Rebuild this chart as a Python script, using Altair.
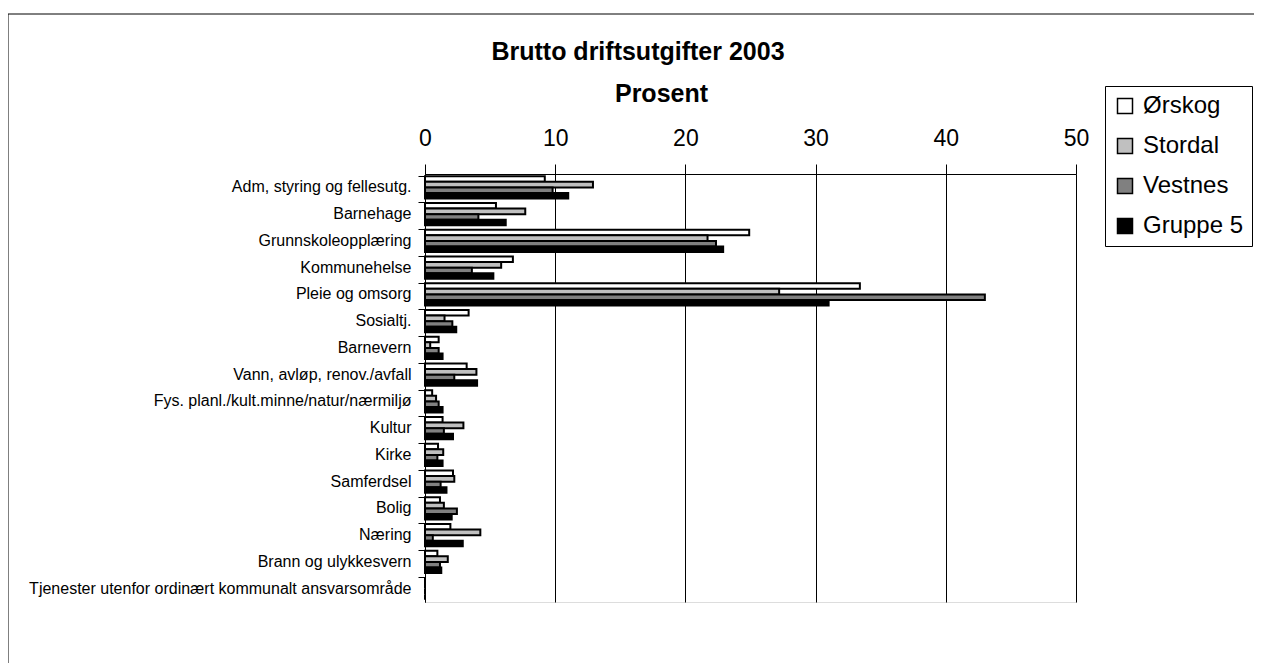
import altair as alt
import pandas as pd

categories = [
    "Adm, styring og fellesutg.",
    "Barnehage",
    "Grunnskoleopplæring",
    "Kommunehelse",
    "Pleie og omsorg",
    "Sosialtj.",
    "Barnevern",
    "Vann, avløp, renov./avfall",
    "Fys. planl./kult.minne/natur/nærmiljø",
    "Kultur",
    "Kirke",
    "Samferdsel",
    "Bolig",
    "Næring",
    "Brann og ulykkesvern",
    "Tjenester utenfor ordinært kommunalt ansvarsområde",
]

series_names = ["Ørskog", "Stordal", "Vestnes", "Gruppe 5"]

orskog = [9.2, 5.45, 24.9, 6.75, 33.4, 3.35, 1.05, 3.2, 0.55, 1.35, 1.0, 2.15, 1.15, 1.95, 0.95, 0.0]
stordal = [12.9, 7.7, 21.7, 5.85, 27.2, 1.5, 0.4, 3.95, 0.85, 2.95, 1.4, 2.25, 1.45, 4.25, 1.75, 0.0]
vestnes = [9.8, 4.1, 22.35, 3.6, 43.0, 2.1, 1.05, 2.25, 1.05, 1.45, 0.95, 1.2, 2.45, 0.6, 1.15, 0.0]
gruppe5 = [11.0, 6.2, 22.9, 5.25, 31.0, 2.4, 1.35, 4.0, 1.35, 2.15, 1.35, 1.65, 2.05, 2.9, 1.25, 0.0]

x_ticks = [0, 10, 20, 30, 40, 50]
colors = ["white", "#c0c0c0", "#808080", "black"]
title_text = "Brutto driftsutgifter 2003"

rows = []
for name, vals in zip(series_names, [orskog, stordal, vestnes, gruppe5]):
    for cat, v in zip(categories, vals):
        rows.append({"Kategori": cat, "Serie": name, "Verdi": v})
df = pd.DataFrame(rows)

bars = alt.Chart(df).mark_bar(stroke="black", strokeWidth=2).encode(
    y=alt.Y(
        "Kategori:N",
        sort=categories,
        scale=alt.Scale(paddingInner=0.16, paddingOuter=0.08),
        axis=alt.Axis(
            title=None, labelFontSize=16, labelColor="black", labelPadding=7,
            tickSize=7, tickColor="black", domainColor="black", bandPosition=0,
            labelLimit=600, grid=False,
        ),
    ),
    yOffset=alt.YOffset("Serie:N", sort=series_names,
                        scale=alt.Scale(paddingInner=0, paddingOuter=0)),
    x=alt.X(
        "Verdi:Q",
        scale=alt.Scale(domain=[0, 50], nice=False),
        axis=alt.Axis(
            orient="top", values=x_ticks, title="Prosent", titleFontSize=25,
            titleFontWeight="bold", titleX=236, titleY=-73, titleAlign="center",
            titleBaseline="alphabetic", titleColor="black",
            labelFontSize=23, labelPadding=14, labelColor="black",
            labelFlush=False, labelOverlap=False,
            tickSize=10, tickColor="black", domainColor="black",
            grid=True, gridColor="black", gridOpacity=1,
        ),
    ),
    fill=alt.Fill(
        "Serie:N",
        scale=alt.Scale(domain=series_names, range=colors),
        legend=alt.Legend(
            title=None, orient="none", legendX=680, legendY=-88,
            labelFontSize=24, labelColor="black", symbolType="square",
            symbolSize=225, symbolStrokeColor="black", symbolStrokeWidth=1.5,
            strokeColor="black", padding=8, rowPadding=16, labelOffset=6,
            fillColor="white",
        ),
    ),
)

frame = alt.Chart(alt.Data(values=[{"a": 1}])).mark_rect(
    fillOpacity=0, stroke="black", strokeWidth=1
).encode(
    x=alt.value(-417), x2=alt.value(900), y=alt.value(-160), y2=alt.value(600)
)

title = alt.Chart(alt.Data(values=[{"a": 1}])).mark_text(
    fontSize=25, fontWeight="bold", align="center", baseline="alphabetic",
    color="black"
).encode(
    x=alt.value(213), y=alt.value(-114), text=alt.value(title_text)
)

chart = alt.layer(frame, bars, title).properties(
    width=651,
    height=428,
    autosize=alt.AutoSizeParams(type="none"),
    padding={"left": 417, "top": 166, "right": 178, "bottom": 61},
).configure_view(stroke="#808080", strokeWidth=2).configure(font="Liberation Sans")

chart.save("out.html", embed_options={"renderer": "svg", "actions": False})
